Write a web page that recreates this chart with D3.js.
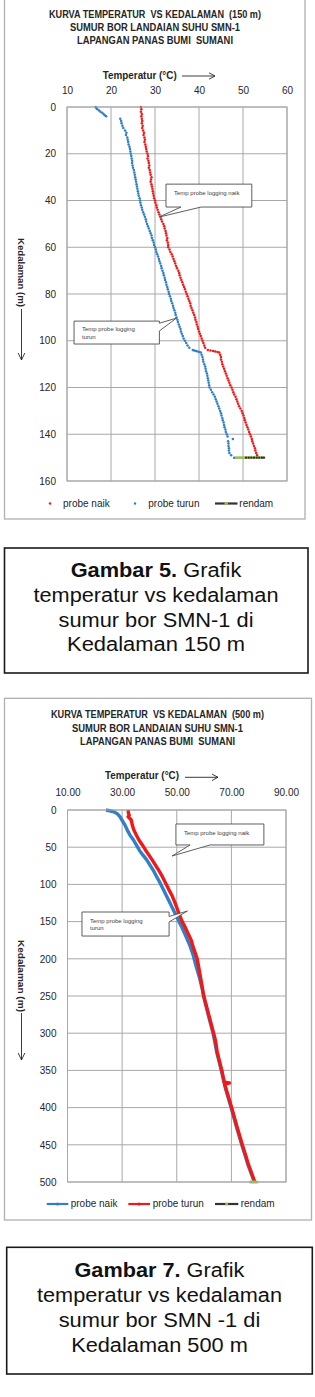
<!DOCTYPE html>
<html>
<head>
<meta charset="utf-8">
<script src="https://cdn.jsdelivr.net/npm/d3@7"></script>
<style>
  body { margin: 0; background: #fff; }
  svg { display: block; font-family: "Liberation Sans", Arial, sans-serif; }
  text { white-space: pre; }
</style>
</head>
<body>
<svg id="page" width="315" height="1397"></svg>
<script>
/* ---------- Data: chart 1 (150 m) ---------- */
const depth150 = d3.range(0, 151);               /* logging every 1 m */
const naikTemp150 = [
  26.8, 26.9, 26.8, 27.0, 26.9, 27.0, 27.1, 27.0, 27.2, 27.1, 27.3,
  27.5, 27.4, 27.6, 27.7, 27.6, 27.8, 27.9, 28.0, 28.1, 28.3,
  28.4, 28.3, 28.5, 28.6, 28.7, 28.6, 28.8, 28.9, 29.0, 29.2,
  29.1, 29.0, 29.2, 29.3, 29.4, 29.5, 29.6, 29.7, 29.8, 30.0,
  30.1, 30.3, 30.4, 30.6, 30.8, 31.0, 31.3, 31.4, 31.6, 31.9,
  32.1, 32.2, 32.4, 32.5, 32.6, 32.8, 32.7, 32.9, 33.0, 33.0,
  33.3, 33.5, 33.8, 34.0, 34.2, 34.4, 34.6, 34.8, 35.0, 35.3,
  35.5, 35.6, 35.8, 36.0, 36.2, 36.4, 36.6, 36.8, 37.0, 37.2,
  37.4, 37.6, 37.8, 38.0, 38.1, 38.3, 38.5, 38.7, 38.9, 39.1,
  39.2, 39.4, 39.5, 39.7, 39.8, 40.0, 40.2, 40.4, 40.6, 40.8,
  41.0, 41.2, 41.4, 42.0, 44.6, 44.8, 45.0, 45.0, 45.2, 45.3,
  45.5, 45.7, 45.9, 46.1, 46.3, 46.5, 46.7, 46.9, 47.1, 47.4,
  47.6, 47.8, 48.0, 48.3, 48.5, 48.7, 48.9, 49.1, 49.4, 49.7,
  49.9, 50.1, 50.3, 50.4, 50.6, 50.8, 51.0, 51.2, 51.4, 51.6,
  51.8, 52.0, 52.1, 52.3, 52.5, 52.7, 52.8, 53.0, 53.2, 53.3
];
const naikJumpDepth = [104.2, 104.4, 104.6, 104.8];
const naikJumpTemp = [42.6, 43.2, 43.7, 44.2];

const turunTopDepth = [0, 0.5, 1, 1.5, 2, 2.5, 3, 3.5, 4];
const turunTopTemp = [16.5, 16.7, 16.9, 17.3, 17.6, 18.0, 18.3, 18.6, 18.9];
const turunDepth150 = d3.range(5, 151);
const turunTemp150 = [
  22.1, 22.3, 22.4, 22.6, 22.8, 23.2,
  23.5, 23.4, 23.7, 23.8, 23.9, 24.0, 24.2, 24.3, 24.4, 24.5,
  24.6, 24.7, 24.8, 24.8, 24.9, 25.0, 25.2, 25.3, 25.4, 25.5,
  25.6, 25.7, 25.8, 25.9, 26.0, 26.1, 26.2, 26.3, 26.5, 26.6,
  26.7, 26.8, 27.0, 27.1, 27.3, 27.5, 27.7, 27.9, 28.0, 28.2,
  28.4, 28.6, 28.8, 29.0, 29.2, 29.3, 29.5, 29.7, 29.8, 30.0,
  30.2, 30.3, 30.5, 30.7, 30.9, 31.0, 31.2, 31.4, 31.5, 31.7,
  31.9, 32.0, 32.2, 32.3, 32.5, 32.6, 32.8, 32.9, 33.1, 33.2,
  33.4, 33.6, 33.7, 33.9, 34.1, 34.2, 34.4, 34.6, 34.7, 34.9,
  35.1, 35.2, 35.4, 35.6, 35.8, 35.9, 36.1, 36.3, 36.5, 36.8,
  37.1, 37.4, 37.8, 38.6, 40.4, 40.6, 40.8, 40.9, 41.0, 41.2,
  41.4, 41.5, 41.6, 41.8, 41.9, 42.0, 42.1, 42.2, 42.3, 42.4,
  42.7, 43.0, 43.3, 43.6, 43.8, 44.0, 44.2, 44.4, 44.6, 44.8,
  45.0, 45.1, 45.3, 45.4, 45.6, 45.7, 45.8, 46.0, 46.1, 46.3,
  46.5, 47.7, 46.6, 46.7, 46.7, 46.8, 46.8, 46.9, 47.3, 48.0
];
const turunJumpDepth = [104.2, 104.4, 104.6, 104.8];
const turunJumpTemp = [38.9, 39.3, 39.7, 40.1];

const rendamDepth150 = 150;
const rendamTemp150 = [48.2, 48.8, 49.4, 50.0, 50.7, 51.3, 51.9, 52.5, 53.1, 53.7, 54.3, 54.8];

/* ---------- Data: chart 2 (500 m) ---------- */
const naikDepth500 = [0, 1, 2.5, 5, 9, 14, 20, 27, 34, 40, 47, 54, 60, 67, 74, 81, 90, 98, 107, 116,
  127, 139, 150, 157, 170, 183, 195, 210, 225, 240, 250, 275, 300, 325, 350, 375, 400, 425, 450, 466, 475, 500];
const naikTemp500 = [24.1, 25.4, 27.0, 28.2, 29.2, 30.0, 31.0, 31.9, 32.9, 34.1, 35.2, 36.3, 37.5, 39.0, 40.2, 41.4, 42.7, 43.9, 45.1, 46.3,
  47.8, 49.4, 50.8, 51.8, 53.4, 54.9, 56.0, 57.1, 58.3, 59.3, 59.8, 61.5, 63.3, 64.6, 66.3, 67.9, 69.9, 71.8, 73.8, 75.2, 75.9, 78.4];

const turunDepth500 = [0, 4, 7, 9, 13, 20, 27, 33, 40, 47, 54, 60, 67, 74, 81, 90, 98, 107, 116, 127,
  139, 150, 157, 165, 175, 183, 200, 225, 250, 275, 300, 310, 325, 350, 366, 367, 368, 400, 425, 450, 466, 475, 500];
const turunTemp500 = [32.2, 32.3, 32.6, 32.2, 33.3, 33.7, 34.3, 35.1, 36.1, 37.4, 38.6, 39.7, 41.0, 42.2, 43.4, 44.8, 45.9, 47.1, 48.4, 49.6,
  50.8, 52.0, 53.0, 54.0, 55.3, 55.9, 57.5, 58.7, 59.9, 61.7, 63.5, 64.2, 64.8, 66.5, 67.4, 69.3, 67.5, 70.1, 72.0, 74.0, 75.4, 76.1, 78.6];

const rendamDepth500 = 500;
const rendamTemp500 = [77.0, 77.8, 78.6, 79.4];

/* ---------- Tick labels ---------- */
const xTicks150 = [10, 20, 30, 40, 50, 60];
const yTicks150 = [0, 20, 40, 60, 80, 100, 120, 140, 160];
const xTicks500 = [10, 30, 50, 70, 90];
const yTicks500 = [0, 50, 100, 150, 200, 250, 300, 350, 400, 450, 500];

/* ---------- Texts ---------- */
const titles150 = ["KURVA TEMPERATUR  VS KEDALAMAN  (150 m)", "SUMUR BOR LANDAIAN SUHU SMN-1", "LAPANGAN PANAS BUMI  SUMANI"];
const titles500 = ["KURVA TEMPERATUR  VS KEDALAMAN  (500 m)", "SUMUR BOR LANDAIAN SUHU SMN-1", "LAPANGAN PANAS BUMI  SUMANI"];
const legendNames = ["probe naik", "probe turun", "rendam"];
const caption5 = ["Gambar 5.", " Grafik", "temperatur vs kedalaman", "sumur bor SMN-1 di", "Kedalaman 150 m"];
const caption7 = ["Gambar 7.", " Grafik", "temperatur vs kedalaman", "sumur bor SMN -1 di", "Kedalaman 500 m"];

const RED = "#f21818", BLUE = "#2f80c8", GREEN = "#9bbb59", GRID = "#a8a8a8";

const page = d3.select("#page");
page.append("rect").attr("width", 315).attr("height", 1397).attr("fill", "#fff");

/* Shared chart frame, grid, axes, titles */
function drawFrame(cfg) {
  const g = page.append("g");

  g.append("rect")
    .attr("x", cfg.frame[0]).attr("y", cfg.frame[1])
    .attr("width", cfg.frame[2]).attr("height", cfg.frame[3])
    .attr("fill", "#fff").attr("stroke", "#b0b0b0").attr("stroke-width", 1.3);

  const x = d3.scaleLinear().domain(cfg.xDomain).range([cfg.left, cfg.right]);
  const y = d3.scaleLinear().domain(cfg.yDomain).range([cfg.top, cfg.bottom]);

  /* gridlines */
  g.append("g").selectAll("line").data(cfg.xTicks).join("line")
    .attr("x1", d => x(d)).attr("x2", d => x(d))
    .attr("y1", cfg.top).attr("y2", cfg.bottom)
    .attr("stroke", GRID).attr("stroke-width", 1);
  g.append("g").selectAll("line").data(cfg.yTicks).join("line")
    .attr("x1", cfg.left).attr("x2", cfg.right)
    .attr("y1", d => y(d)).attr("y2", d => y(d))
    .attr("stroke", GRID).attr("stroke-width", 1);

  /* top axis labels */
  g.append("g")
    .attr("transform", `translate(0,${cfg.top})`)
    .call(d3.axisTop(x).tickValues(cfg.xTicks).tickFormat(cfg.xFormat).tickSize(0).tickPadding(cfg.xPad))
    .call(a => a.select(".domain").remove())
    .call(a => a.selectAll("text").attr("font-size", 10).attr("font-family", null).attr("fill", "#262626"));

  /* left axis labels */
  g.append("g")
    .attr("transform", `translate(${cfg.left},0)`)
    .call(d3.axisLeft(y).tickValues(cfg.yTicks).tickSize(0).tickPadding(cfg.yPad))
    .call(a => a.select(".domain").remove())
    .call(a => a.selectAll("text").attr("font-size", 10).attr("font-family", null).attr("fill", "#262626"));

  /* chart titles */
  g.selectAll(".title").data(cfg.titles).join("text")
    .attr("x", cfg.titleX)
    .attr("y", (d, i) => cfg.titleY[i])
    .attr("text-anchor", "middle")
    .attr("font-size", 10).attr("font-weight", "bold").attr("fill", "#262626")
    .attr("textLength", (d, i) => cfg.titleLen[i])
    .attr("lengthAdjust", "spacingAndGlyphs")
    .text(d => d);

  /* x axis title + arrow */
  g.append("text")
    .attr("x", cfg.tempTitle[0]).attr("y", cfg.tempTitle[1])
    .attr("font-size", 10).attr("font-weight", "bold").attr("fill", "#262626")
    .attr("textLength", 74).attr("lengthAdjust", "spacingAndGlyphs")
    .text("Temperatur (°C)");
  const ax = cfg.tempArrow;
  g.append("path")
    .attr("d", `M${ax[0]},${ax[2]}H${ax[1]}M${ax[1] - 6},${ax[2] - 3.2}L${ax[1]},${ax[2]}L${ax[1] - 6},${ax[2] + 3.2}`)
    .attr("fill", "none").attr("stroke", "#262626").attr("stroke-width", 0.9);

  /* y axis title + arrow */
  const dy = cfg.depthTitle;
  g.append("text")
    .attr("transform", `translate(${dy[0]},${dy[1]}) rotate(90)`)
    .attr("dy", "0.35em")
    .attr("font-size", 9.5).attr("font-weight", "bold").attr("fill", "#262626")
    .attr("textLength", dy[2]).attr("lengthAdjust", "spacingAndGlyphs")
    .text("Kedalaman (m)");
  g.append("path")
    .attr("d", `M${dy[0]},${dy[3]}V${dy[4]}M${dy[0] - 3.3},${dy[4] - 7}L${dy[0]},${dy[4]}L${dy[0] + 3.3},${dy[4] - 7}`)
    .attr("fill", "none").attr("stroke", "#262626").attr("stroke-width", 0.9);

  return { g, x, y };
}

/* Plot border drawn after the series */
function drawBorder(g, cfg) {
  g.append("rect")
    .attr("x", cfg.left).attr("y", cfg.top)
    .attr("width", cfg.right - cfg.left).attr("height", cfg.bottom - cfg.top)
    .attr("fill", "none").attr("stroke", GRID).attr("stroke-width", 1);
}

/* Wedge callout, positioned in data units */
function callout(g, x, y, c) {
  const x0 = x(c.box[0]), x1 = x(c.box[1]), y0 = y(c.box[2]), y1 = y(c.box[3]);
  const tx = x(c.tip[0]), ty = y(c.tip[1]);
  let d;
  if (c.side === "bottom") {
    const b1 = x(c.base[0]), b2 = x(c.base[1]);
    d = `M${x0},${y0}H${x1}V${y1}H${b2}L${tx},${ty}L${b1},${y1}H${x0}Z`;
  } else {
    const b1 = y(c.base[0]), b2 = y(c.base[1]);
    d = `M${x0},${y0}H${x1}V${b1}L${tx},${ty}L${x1},${b2}V${y1}H${x0}Z`;
  }
  g.append("path").attr("d", d).attr("fill", "#fff").attr("stroke", "#4d4d4d").attr("stroke-width", 0.9);
  g.selectAll(null).data(c.lines).join("text")
    .attr("x", x0 + 8)
    .attr("y", (t, i) => y0 + c.first + i * 7.5)
    .attr("font-size", 6).attr("fill", "#404040")
    .text(t => t);
}

/* Figure caption boxes */
function caption(lines, box, cx, ys, lens) {
  const g = page.append("g");
  g.append("rect")
    .attr("x", box[0]).attr("y", box[1]).attr("width", box[2]).attr("height", box[3])
    .attr("fill", "#fff").attr("stroke", "#1a1a1a").attr("stroke-width", 1.6);
  const first = g.append("text")
    .attr("x", cx).attr("y", ys[0]).attr("text-anchor", "middle")
    .attr("font-size", 19.5).attr("fill", "#111")
    .attr("textLength", lens[0]).attr("lengthAdjust", "spacingAndGlyphs");
  first.append("tspan").attr("font-weight", "bold").text(lines[0]);
  first.append("tspan").text(lines[1]);
  g.selectAll(".cap").data(lines.slice(2)).join("text")
    .attr("x", cx).attr("y", (d, i) => ys[i + 1]).attr("text-anchor", "middle")
    .attr("font-size", 19.5).attr("fill", "#111")
    .attr("textLength", (d, i) => lens[i + 1]).attr("lengthAdjust", "spacingAndGlyphs")
    .text(d => d);
}

/* ---------- Chart 1 ---------- */
const cfg1 = {
  frame: [4.5, -2, 300.5, 521], left: 67, right: 287, top: 107, bottom: 481,
  xDomain: [10, 60], yDomain: [0, 160], xTicks: xTicks150, yTicks: yTicks150,
  xFormat: d3.format("d"), xPad: 13, yPad: 11,
  titles: titles150, titleX: 155, titleY: [18.3, 30.5, 44], titleLen: [212, 170, 156],
  tempTitle: [102.7, 79], tempArrow: [182, 215, 76],
  depthTitle: [21.5, 238, 69, 309, 360]
};
const c1 = drawFrame(cfg1);
{
  const { g, x, y } = c1;
  /* probe naik (red dots) */
  const naikPts = depth150.map((d, i) => [naikTemp150[i], d])
    .concat(naikJumpDepth.map((d, i) => [naikJumpTemp[i], d]));
  /* probe turun (blue dots) */
  const turunPts = turunTopDepth.map((d, i) => [turunTopTemp[i], d])
    .concat(turunDepth150.map((d, i) => [turunTemp150[i], d]))
    .concat(turunJumpDepth.map((d, i) => [turunJumpTemp[i], d]));

  g.append("g").selectAll("circle").data(naikPts).join("circle")
    .attr("cx", d => x(d[0])).attr("cy", d => y(d[1])).attr("r", 1.25).attr("fill", RED);
  g.append("g").selectAll("circle").data(turunPts).join("circle")
    .attr("cx", d => x(d[0])).attr("cy", d => y(d[1])).attr("r", 1.25).attr("fill", BLUE);

  /* rendam */
  g.append("line")
    .attr("x1", x(d3.min(rendamTemp150))).attr("x2", x(d3.max(rendamTemp150)))
    .attr("y1", y(rendamDepth150)).attr("y2", y(rendamDepth150))
    .attr("stroke", GREEN).attr("stroke-width", 2.6);
  g.append("g").selectAll("rect").data(rendamTemp150.filter(t => t > 50.5)).join("rect")
    .attr("x", d => x(d) - 1).attr("y", y(rendamDepth150) - 1).attr("width", 2).attr("height", 2)
    .attr("fill", "#2b2b2b");

  drawBorder(g, cfg1);

  callout(g, x, y, { box: [32.5, 52.0, 33.0, 42.8], side: "bottom", base: [35.9, 40.5], tip: [30.9, 47.1],
    first: 10.5, lines: ["Temp probe logging naik"] });
  callout(g, x, y, { box: [11.6, 31.0, 91.6, 101.4], side: "right", base: [92.5, 95.8], tip: [34.9, 90.3],
    first: 10, lines: ["Temp probe logging", "turun"] });

  /* legend */
  const ly = 503.5;
  g.append("circle").attr("cx", 50).attr("cy", ly).attr("r", 1.2).attr("fill", RED);
  g.append("circle").attr("cx", 135).attr("cy", ly).attr("r", 1.2).attr("fill", BLUE);
  g.append("line").attr("x1", 215).attr("x2", 237.5).attr("y1", ly).attr("y2", ly)
    .attr("stroke", "#333").attr("stroke-width", 2.2);
  g.append("rect").attr("x", 224.5).attr("y", ly - 1.3).attr("width", 3.5).attr("height", 2.6).attr("fill", GREEN);
  g.selectAll(".leg").data(legendNames).join("text")
    .attr("x", (d, i) => [63, 148.3, 239.3][i]).attr("y", ly + 3.2)
    .attr("font-size", 10).attr("fill", "#262626")
    .text(d => d);
}

caption(caption5, [4.5, 548, 303.5, 125], 156, [576.7, 602, 626.7, 651], [170.7, 245, 195, 178]);

/* ---------- Chart 2 ---------- */
const cfg2 = {
  frame: [4.5, 698.3, 307, 521.7], left: 67.5, right: 286, top: 810, bottom: 1182,
  xDomain: [10, 90], yDomain: [0, 500], xTicks: xTicks500, yTicks: yTicks500,
  xFormat: d3.format(".2f"), xPad: 14.3, yPad: 11,
  titles: titles500, titleX: 157.5, titleY: [717.7, 731.5, 745], titleLen: [213, 171, 155],
  tempTitle: [105, 779], tempArrow: [185, 218, 777.3],
  depthTitle: [21.5, 940, 72, 1013, 1060]
};
const c2 = drawFrame(cfg2);
{
  const { g, x, y } = c2;
  const line = d3.line().x(d => x(d[0])).y(d => y(d[1]));

  const naikPts = naikDepth500.map((d, i) => [naikTemp500[i], d]);
  const turunPts = turunDepth500.map((d, i) => [turunTemp500[i], d]);

  g.append("path").datum(naikPts).attr("d", line)
    .attr("fill", "none").attr("stroke", BLUE).attr("stroke-width", 3.4).attr("stroke-linejoin", "round");
  g.append("path").datum(turunPts).attr("d", line)
    .attr("fill", "none").attr("stroke", RED).attr("stroke-width", 3.4).attr("stroke-linejoin", "round");

  /* rendam */
  g.append("line")
    .attr("x1", x(d3.min(rendamTemp500))).attr("x2", x(d3.max(rendamTemp500)))
    .attr("y1", y(rendamDepth500)).attr("y2", y(rendamDepth500))
    .attr("stroke", GREEN).attr("stroke-width", 3).attr("stroke-linecap", "round");

  drawBorder(g, cfg2);

  callout(g, x, y, { box: [49.7, 81.9, 18.8, 47.0], side: "bottom", base: [54.9, 62.2], tip: [48.3, 61.8],
    first: 11, lines: ["Temp probe logging naik"] });
  callout(g, x, y, { box: [15.3, 47.2, 137.1, 169.4], side: "right", base: [143.1, 150.5], tip: [53.9, 135.8],
    first: 10.5, lines: ["Temp probe logging", "turun"] });

  /* legend */
  const ly = 1204;
  const sym = [[46.7, 68.3, BLUE, BLUE], [128.3, 150, RED, RED], [215, 238.3, "#333", GREEN]];
  sym.forEach(s => {
    g.append("line").attr("x1", s[0]).attr("x2", s[1]).attr("y1", ly).attr("y2", ly)
      .attr("stroke", s[2]).attr("stroke-width", 2.2);
    g.append("circle").attr("cx", (s[0] + s[1]) / 2).attr("cy", ly).attr("r", 1.6).attr("fill", s[3]);
  });
  g.selectAll(".leg").data(legendNames).join("text")
    .attr("x", (d, i) => [70.7, 152.7, 240.7][i]).attr("y", ly + 3.2)
    .attr("font-size", 10).attr("fill", "#262626")
    .text(d => d);
}

caption(caption7, [6.7, 1247.3, 305.6, 126.7], 159.5, [1276.7, 1301.7, 1326.7, 1351.7], [170, 245, 201.7, 176.7]);
</script>
</body>
</html>
